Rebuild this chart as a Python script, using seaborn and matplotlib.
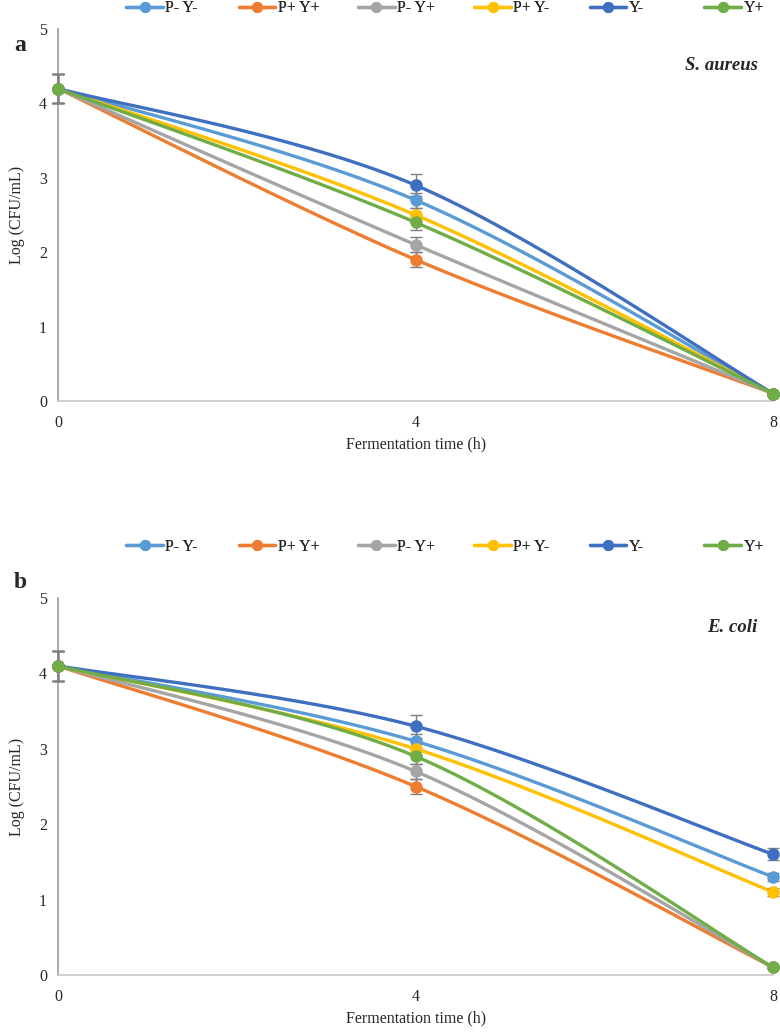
import numpy as np
import pandas as pd
import matplotlib
matplotlib.use("Agg")
import matplotlib.pyplot as plt
from matplotlib.lines import Line2D
import seaborn as sns

# ── Data ────────────────────────────────────────────────────────────────────
times = [0, 4, 8]
series = ["P- Y-", "P+ Y+", "P- Y+", "P+ Y-", "Y-", "Y+"]
colors = ["#5B9BD5", "#ED7D31", "#A5A5A5", "#FFC000", "#3F6FC0", "#70AD47"]

# S. aureus
sa_pm_ym = [4.2, 2.7, 0.1]
sa_pp_yp = [4.2, 1.9, 0.1]
sa_pm_yp = [4.2, 2.1, 0.1]
sa_pp_ym = [4.2, 2.5, 0.1]
sa_ym = [4.2, 2.9, 0.1]
sa_yp = [4.2, 2.4, 0.1]
sa_err = [[0.2, 0.1, 0.0], [0.2, 0.1, 0.0], [0.2, 0.1, 0.0],
          [0.2, 0.1, 0.0], [0.2, 0.15, 0.0], [0.2, 0.1, 0.0]]

# E. coli
ec_pm_ym = [4.1, 3.1, 1.3]
ec_pp_yp = [4.1, 2.5, 0.1]
ec_pm_yp = [4.1, 2.7, 0.1]
ec_pp_ym = [4.1, 3.0, 1.1]
ec_ym = [4.1, 3.3, 1.6]
ec_yp = [4.1, 2.9, 0.1]
ec_err = [[0.2, 0.1, 0.05], [0.2, 0.1, 0.0], [0.2, 0.1, 0.0],
          [0.2, 0.1, 0.05], [0.2, 0.15, 0.08], [0.2, 0.1, 0.0]]

panels = [
    ("a", "S. aureus", [sa_pm_ym, sa_pp_yp, sa_pm_yp, sa_pp_ym, sa_ym, sa_yp], sa_err),
    ("b", "E. coli", [ec_pm_ym, ec_pp_yp, ec_pm_yp, ec_pp_ym, ec_ym, ec_yp], ec_err),
]

# ── Style ───────────────────────────────────────────────────────────────────
sns.set_theme(style="white")
plt.rcParams["font.family"] = ["Liberation Serif", "DejaVu Serif"]


def smooth_curve(x, y, n=60):
    """Excel-style smoothed line (cardinal Bezier through the points)."""
    p = np.column_stack([x, y]).astype(float)
    pad = np.vstack([p[0], p, p[-1]])
    tang = (pad[2:] - pad[:-2]) / 6.0
    xs, ys = [], []
    t = np.linspace(0, 1, n)[:, None]
    for i in range(len(p) - 1):
        b0, b3 = p[i], p[i + 1]
        b1, b2 = b0 + tang[i], b3 - tang[i + 1]
        seg = ((1 - t) ** 3) * b0 + 3 * ((1 - t) ** 2) * t * b1 \
            + 3 * (1 - t) * t ** 2 * b2 + t ** 3 * b3
        xs.extend(seg[:, 0])
        ys.extend(seg[:, 1])
    return np.array(xs), np.array(ys)


fig = plt.figure(figsize=(7.8, 10.32), dpi=100)
axes = [fig.add_axes([0.0744, 0.6114, 0.917, 0.3605]),
        fig.add_axes([0.0744, 0.0552, 0.917, 0.3653])]
legend_y = [0.992, 0.470]
letter_y = [0.956, 0.436]
species_y = [0.902, 0.923]
# left edge of each legend entry (figure fraction)
legend_x = [0.162, 0.306, 0.459, 0.608, 0.756, 0.903]

for ax, (letter, species, vals, errs), ly, lty, sy_ in zip(
        axes, panels, legend_y, letter_y, species_y):
    for name, col, v, e in zip(series, colors, vals, errs):
        sx, sy = smooth_curve(times, v)
        sns.lineplot(x=sx, y=sy, ax=ax, color=col, linewidth=2.4,
                     sort=False, estimator=None, clip_on=False)
        ax.errorbar(times, v, yerr=e, fmt="none", ecolor="#7f7f7f",
                    elinewidth=1.0, capsize=4, capthick=1.0, clip_on=False,
                    zorder=3)
        ax.plot(times, v, "o", color=col, markersize=8, clip_on=False, zorder=4)

    ax.set_xlim(0, 8)
    ax.set_ylim(0, 5)
    ax.set_xticks(times)
    ax.set_yticks(range(6))
    ax.tick_params(axis="both", labelsize=11.5, length=4, color="#a0a0a0",
                   direction="out", pad=4)
    ax.tick_params(axis="x", pad=6)
    for s in ["top", "right"]:
        ax.spines[s].set_visible(False)
    ax.spines["left"].set_color("#a0a0a0")
    ax.spines["bottom"].set_color("#c8c8c8")
    ax.spines["bottom"].set_linewidth(1.2)
    ax.set_xlabel("Fermentation time (h)", fontsize=11.5, labelpad=4)
    ax.set_ylabel("Log (CFU/mL)", fontsize=11.5, labelpad=10)

    ax.text(0.978, sy_, species, transform=ax.transAxes, ha="right",
            va="center", fontsize=13.5, fontweight="bold", style="italic")
    fig.text(0.018, lty, letter, fontsize=17, fontweight="bold",
             ha="left", va="center")

    for name, col, lx in zip(series, colors, legend_x):
        h = Line2D([0], [0], color=col, linewidth=2.4, marker="o", markersize=7)
        leg = fig.legend([h], [name], loc="center left",
                         bbox_to_anchor=(lx, ly), frameon=False,
                         fontsize=11.5, handlelength=2.3, handletextpad=0.15,
                         borderpad=0, borderaxespad=0)
        fig.add_artist(leg)

fig.savefig("out.png", dpi=100)
